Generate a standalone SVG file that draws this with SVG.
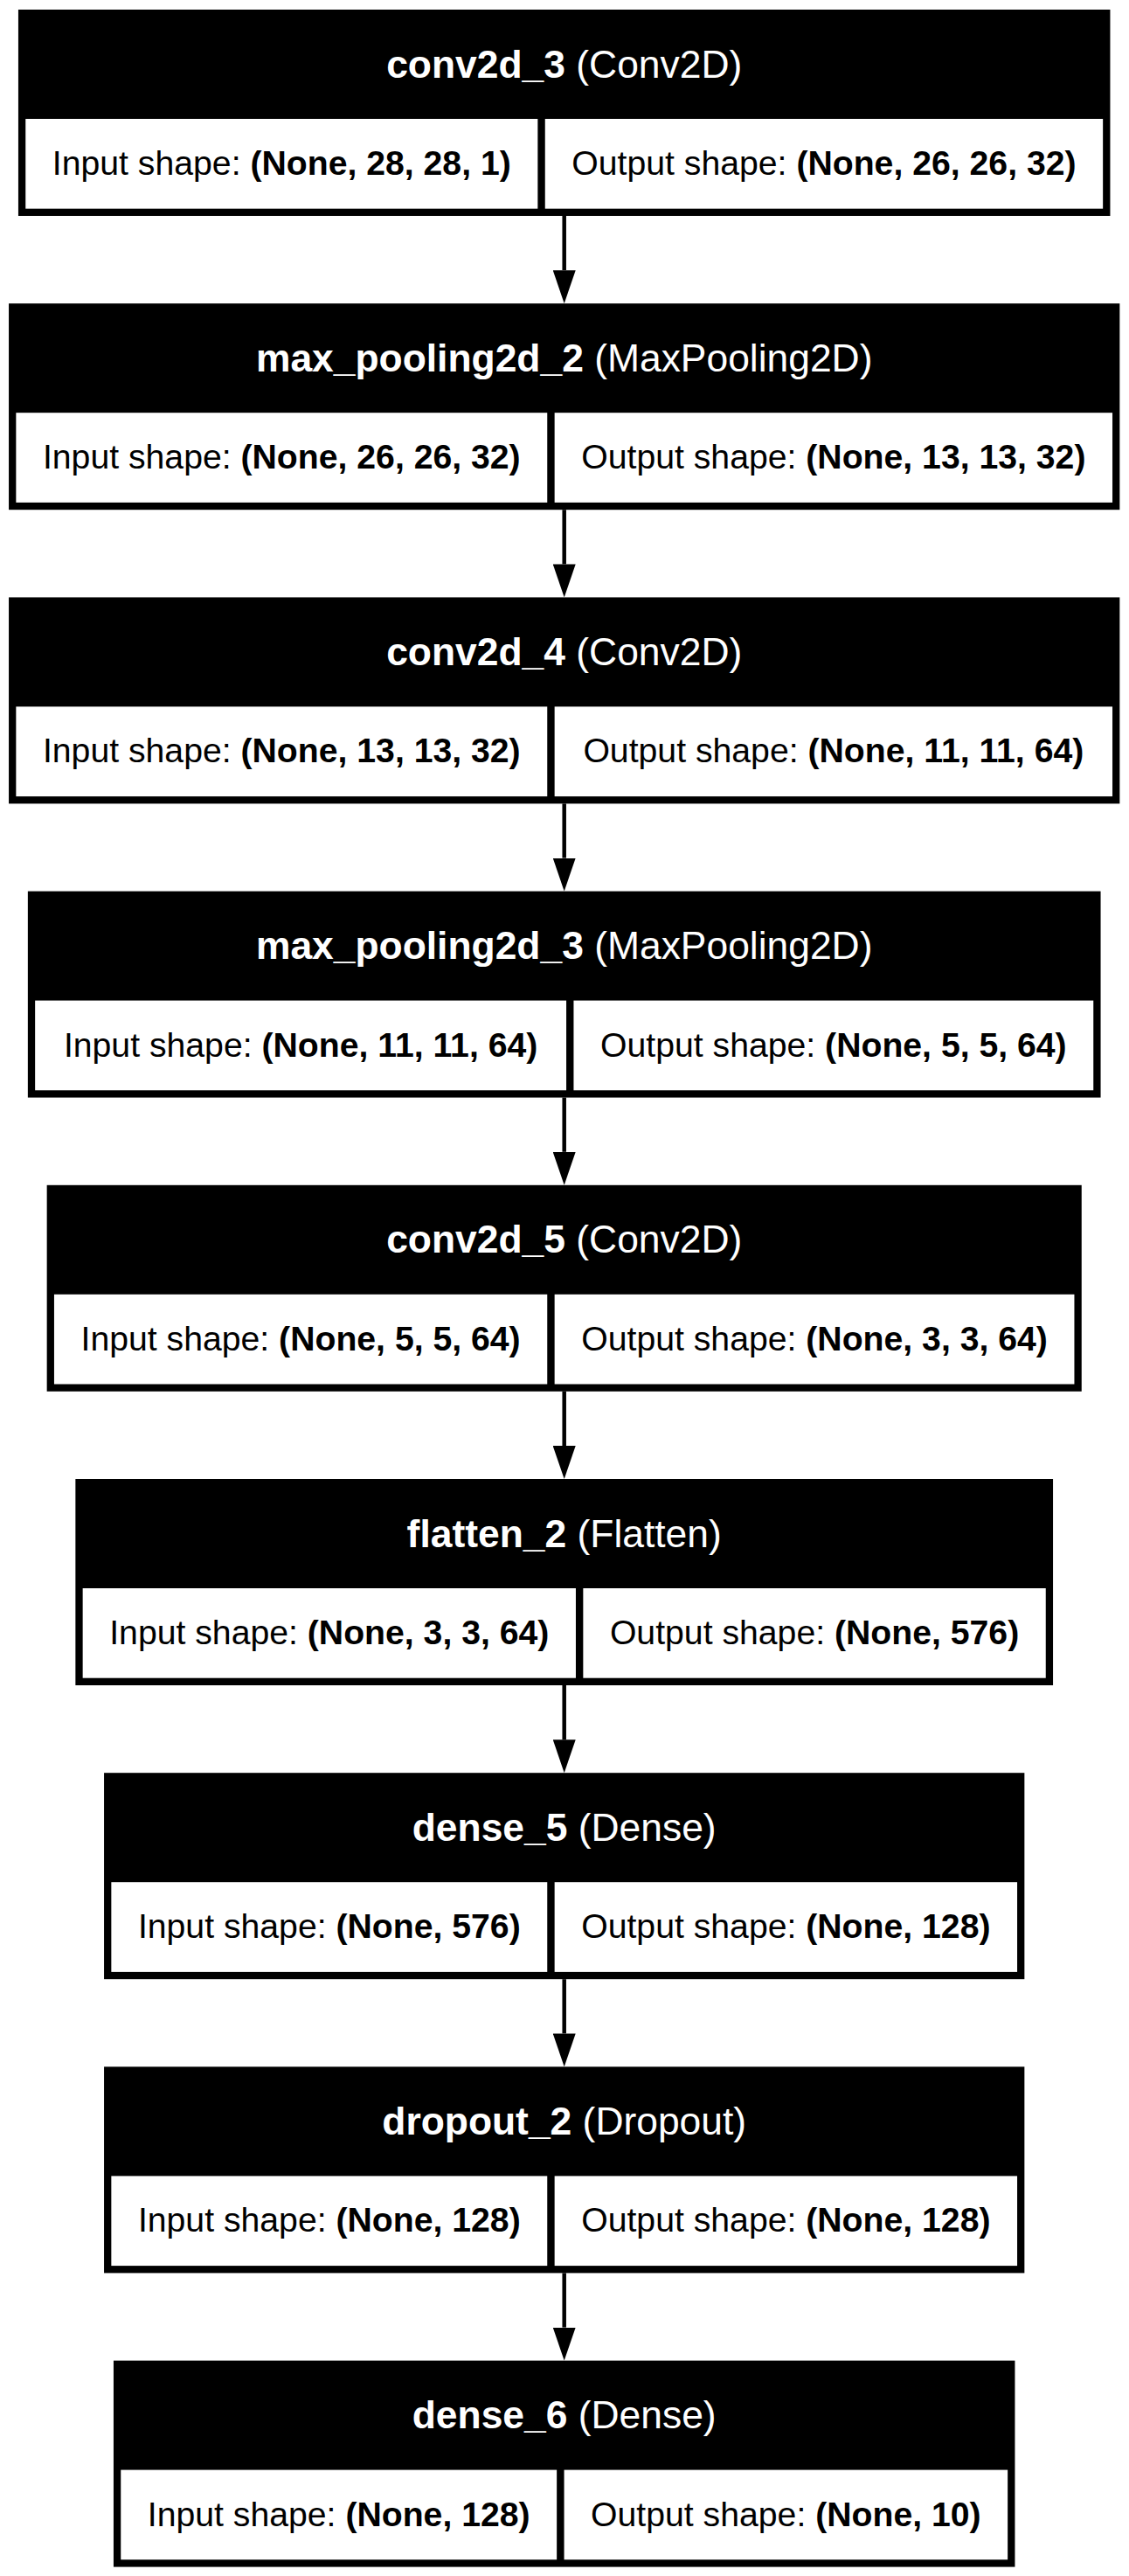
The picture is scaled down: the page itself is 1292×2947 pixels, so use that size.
<svg xmlns="http://www.w3.org/2000/svg" width="1292" height="2947" viewBox="0 0 1292 2947">
  <style>
    .frame { fill: #000; }
    .cell { fill: #fff; }
    .title { font-family: "Liberation Sans", Arial, sans-serif; font-size: 44.4px; fill: #fff; text-anchor: middle; }
    .shape { font-family: "Liberation Sans", Arial, sans-serif; font-size: 39.2px; fill: #000; text-anchor: middle; }
    .b { font-weight: bold; }
    .edge { stroke: #000; stroke-width: 4.5; fill: none; marker-end: url(#head); }
  </style>
  <defs>
    <marker id="head" markerUnits="userSpaceOnUse" markerWidth="38" markerHeight="26" viewBox="0 0 38 26" refX="0" refY="13" orient="auto">
      <polygon points="0,0 38,13 0,26" fill="#000"/>
    </marker>
  </defs>
  <rect width="1292" height="2947" fill="#fff"/>

  <!-- layer boxes: black frame + title band, two white shape cells -->
  <g id="conv2d_3">
    <rect class="frame" x="20.95" y="11" width="1249.5" height="236"/>
    <rect class="cell" x="29.25" y="136" width="586.1" height="102.7"/>
    <rect class="cell" x="623.75" y="136" width="638.4" height="102.7"/>
    <text class="title" x="645.7" y="88.5"><tspan class="b">conv2d_3</tspan> (Conv2D)</text>
    <text class="shape" x="322.3" y="200">Input shape: <tspan class="b">(None, 28, 28, 1)</tspan></text>
    <text class="shape" x="942.95" y="200">Output shape: <tspan class="b">(None, 26, 26, 32)</tspan></text>
  </g>

  <g id="max_pooling2d_2">
    <rect class="frame" x="10.05" y="347.2" width="1271.3" height="236"/>
    <rect class="cell" x="18.35" y="472.2" width="607.9" height="102.7"/>
    <rect class="cell" x="634.65" y="472.2" width="638.4" height="102.7"/>
    <text class="title" x="645.7" y="424.7"><tspan class="b">max_pooling2d_2</tspan> (MaxPooling2D)</text>
    <text class="shape" x="322.3" y="536.2">Input shape: <tspan class="b">(None, 26, 26, 32)</tspan></text>
    <text class="shape" x="953.85" y="536.2">Output shape: <tspan class="b">(None, 13, 13, 32)</tspan></text>
  </g>

  <g id="conv2d_4">
    <rect class="frame" x="10.05" y="683.4" width="1271.3" height="236"/>
    <rect class="cell" x="18.35" y="808.4" width="607.9" height="102.7"/>
    <rect class="cell" x="634.65" y="808.4" width="638.4" height="102.7"/>
    <text class="title" x="645.7" y="760.9"><tspan class="b">conv2d_4</tspan> (Conv2D)</text>
    <text class="shape" x="322.3" y="872.4">Input shape: <tspan class="b">(None, 13, 13, 32)</tspan></text>
    <text class="shape" x="953.85" y="872.4">Output shape: <tspan class="b">(None, 11, 11, 64)</tspan></text>
  </g>

  <g id="max_pooling2d_3">
    <rect class="frame" x="31.85" y="1019.6" width="1227.7" height="236"/>
    <rect class="cell" x="40.15" y="1144.6" width="607.9" height="102.7"/>
    <rect class="cell" x="656.45" y="1144.6" width="594.8" height="102.7"/>
    <text class="title" x="645.7" y="1097.1"><tspan class="b">max_pooling2d_3</tspan> (MaxPooling2D)</text>
    <text class="shape" x="344.1" y="1208.6">Input shape: <tspan class="b">(None, 11, 11, 64)</tspan></text>
    <text class="shape" x="953.85" y="1208.6">Output shape: <tspan class="b">(None, 5, 5, 64)</tspan></text>
  </g>

  <g id="conv2d_5">
    <rect class="frame" x="53.65" y="1355.8" width="1184.1" height="236"/>
    <rect class="cell" x="61.95" y="1480.8" width="564.3" height="102.7"/>
    <rect class="cell" x="634.65" y="1480.8" width="594.8" height="102.7"/>
    <text class="title" x="645.7" y="1433.3"><tspan class="b">conv2d_5</tspan> (Conv2D)</text>
    <text class="shape" x="344.1" y="1544.8">Input shape: <tspan class="b">(None, 5, 5, 64)</tspan></text>
    <text class="shape" x="932.05" y="1544.8">Output shape: <tspan class="b">(None, 3, 3, 64)</tspan></text>
  </g>

  <g id="flatten_2">
    <rect class="frame" x="86.35" y="1692" width="1118.7" height="236"/>
    <rect class="cell" x="94.65" y="1817" width="564.3" height="102.7"/>
    <rect class="cell" x="667.35" y="1817" width="529.4" height="102.7"/>
    <text class="title" x="645.7" y="1769.5"><tspan class="b">flatten_2</tspan> (Flatten)</text>
    <text class="shape" x="376.8" y="1881">Input shape: <tspan class="b">(None, 3, 3, 64)</tspan></text>
    <text class="shape" x="932.05" y="1881">Output shape: <tspan class="b">(None, 576)</tspan></text>
  </g>

  <g id="dense_5">
    <rect class="frame" x="119.05" y="2028.2" width="1053.3" height="236"/>
    <rect class="cell" x="127.35" y="2153.2" width="498.9" height="102.7"/>
    <rect class="cell" x="634.65" y="2153.2" width="529.4" height="102.7"/>
    <text class="title" x="645.7" y="2105.7"><tspan class="b">dense_5</tspan> (Dense)</text>
    <text class="shape" x="376.8" y="2217.2">Input shape: <tspan class="b">(None, 576)</tspan></text>
    <text class="shape" x="899.35" y="2217.2">Output shape: <tspan class="b">(None, 128)</tspan></text>
  </g>

  <g id="dropout_2">
    <rect class="frame" x="119.05" y="2364.4" width="1053.3" height="236"/>
    <rect class="cell" x="127.35" y="2489.4" width="498.9" height="102.7"/>
    <rect class="cell" x="634.65" y="2489.4" width="529.4" height="102.7"/>
    <text class="title" x="645.7" y="2441.9"><tspan class="b">dropout_2</tspan> (Dropout)</text>
    <text class="shape" x="376.8" y="2553.4">Input shape: <tspan class="b">(None, 128)</tspan></text>
    <text class="shape" x="899.35" y="2553.4">Output shape: <tspan class="b">(None, 128)</tspan></text>
  </g>

  <g id="dense_6">
    <rect class="frame" x="129.95" y="2700.6" width="1031.5" height="236"/>
    <rect class="cell" x="138.25" y="2825.6" width="498.9" height="102.7"/>
    <rect class="cell" x="645.55" y="2825.6" width="507.6" height="102.7"/>
    <text class="title" x="645.7" y="2778.1"><tspan class="b">dense_6</tspan> (Dense)</text>
    <text class="shape" x="387.7" y="2889.6">Input shape: <tspan class="b">(None, 128)</tspan></text>
    <text class="shape" x="899.35" y="2889.6">Output shape: <tspan class="b">(None, 10)</tspan></text>
  </g>

  <!-- data-flow arrows between consecutive layers -->
  <g id="edges">
    <path class="edge" d="M645.7,247 V309.2"/>
    <path class="edge" d="M645.7,583.2 V645.4"/>
    <path class="edge" d="M645.7,919.4 V981.6"/>
    <path class="edge" d="M645.7,1255.6 V1317.8"/>
    <path class="edge" d="M645.7,1591.8 V1654"/>
    <path class="edge" d="M645.7,1928 V1990.2"/>
    <path class="edge" d="M645.7,2264.2 V2326.4"/>
    <path class="edge" d="M645.7,2600.4 V2662.6"/>
  </g>
</svg>
